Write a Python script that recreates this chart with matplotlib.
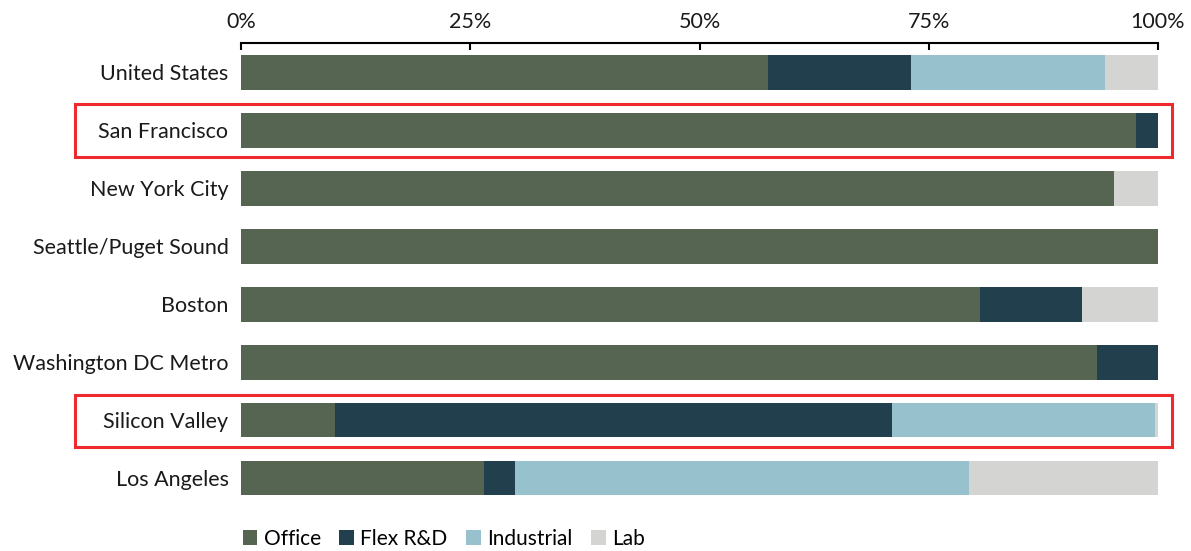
import matplotlib.pyplot as plt
import numpy as np
from matplotlib.patches import Rectangle

plt.rcParams["font.family"] = ["Lato", "DejaVu Sans"]

markets = ["United States", "San Francisco", "New York City", "Seattle/Puget Sound",
           "Boston", "Washington DC Metro", "Silicon Valley", "Los Angeles"]
office = [57.5, 97.6, 95.2, 100.0, 80.6, 93.3, 10.3, 26.5]
flex_rd = [15.6, 2.4, 0.0, 0.0, 11.1, 6.7, 60.7, 3.4]
industrial = [21.1, 0.0, 0.0, 0.0, 0.0, 0.0, 28.7, 49.5]
lab = [5.8, 0.0, 4.8, 0.0, 8.3, 0.0, 0.3, 20.6]
highlighted = ["San Francisco", "Silicon Valley"]

series = [("Office", office, "#566552"),
          ("Flex R&D", flex_rd, "#213F4C"),
          ("Industrial", industrial, "#97C1CD"),
          ("Lab", lab, "#D4D4D3")]

W, H = 1191, 551
fig = plt.figure(figsize=(W / 100, H / 100), dpi=100)
ax = fig.add_axes([241 / W, 1 - 507.5 / H, (1158 - 241) / W, (507.5 - 43) / H])

y = np.arange(len(markets))
left = np.zeros(len(markets))
handles = []
for name, vals, color in series:
    vals = np.array(vals)
    b = ax.barh(y, vals, left=left, height=0.6, color=color, label=name)
    handles.append(b)
    left += vals

ax.set_xlim(0, 100)
ax.set_ylim(len(markets) - 0.5 + 0.009, -0.509)
ax.set_yticks(y)
ax.set_yticklabels(markets, fontsize=15.5, color="#1a1a1a")
ax.tick_params(axis="y", length=0, pad=9)

ax.xaxis.tick_top()
ax.set_xticks([0, 25, 50, 75, 100])
ax.set_xticklabels(["0%", "25%", "50%", "75%", "100%"], fontsize=15.5, color="#1a1a1a")
ax.tick_params(axis="x", direction="in", length=5, width=1.5, color="black", pad=8)

for s in ["right", "bottom", "left"]:
    ax.spines[s].set_visible(False)
ax.spines["top"].set_linewidth(1.5)

# red outlines around the highlighted rows
for m in highlighted:
    i = markets.index(m)
    yc = 72.5 + 58 * i
    fig.patches.append(Rectangle((75 / W, 1 - (yc + 26) / H), (1172 - 75) / W, 52 / H,
                                 transform=fig.transFigure, fill=False,
                                 edgecolor="#EE2A2F", linewidth=2.2))

fig.legend(handles=handles, loc="lower left", bbox_to_anchor=(224 / W, -0.03), ncol=4,
           frameon=False, fontsize=15, handlelength=0.7, handleheight=0.7,
           handletextpad=0.3, columnspacing=0.9)

fig.savefig("out.png", dpi=100, facecolor="white")
